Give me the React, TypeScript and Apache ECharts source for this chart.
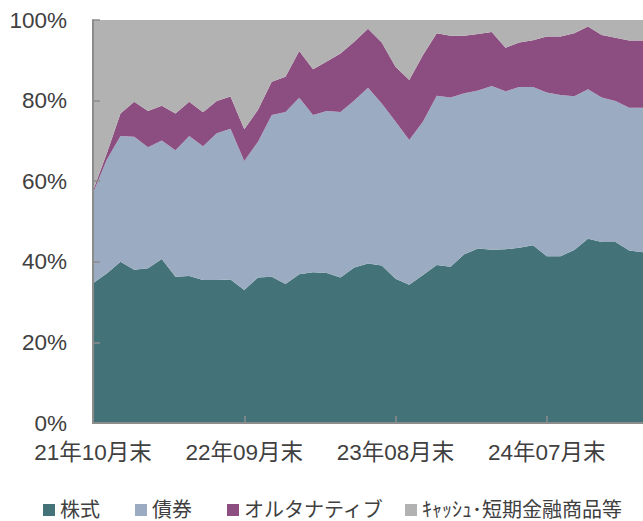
import React, { useEffect, useRef } from "react";
import * as echarts from "echarts";

const categories: string[] = [
  "21年10月末", "21年11月末", "21年12月末", "22年01月末", "22年02月末", "22年03月末",
  "22年04月末", "22年05月末", "22年06月末", "22年07月末", "22年08月末", "22年09月末",
  "22年10月末", "22年11月末", "22年12月末", "23年01月末", "23年02月末", "23年03月末",
  "23年04月末", "23年05月末", "23年06月末", "23年07月末", "23年08月末", "23年09月末",
  "23年10月末", "23年11月末", "23年12月末", "24年01月末", "24年02月末", "24年03月末",
  "24年04月末", "24年05月末", "24年06月末", "24年07月末", "24年08月末", "24年09月末",
  "24年10月末", "24年11月末", "24年12月末", "25年01月末", "25年02月末",
];

const stocks: number[] = [
  34.7, 37.1, 40.0, 38.0, 38.4, 40.7, 36.3, 36.5, 35.5, 35.5, 35.6, 33.0,
  36.1, 36.3, 34.5, 36.9, 37.4, 37.2, 36.1, 38.6, 39.6, 39.1, 35.8, 34.3,
  36.7, 39.2, 38.8, 41.9, 43.3, 43.0, 43.1, 43.5, 44.1, 41.4, 41.4, 42.9,
  45.7, 44.9, 44.9, 42.8, 42.4,
];
const bonds: number[] = [
  22.4, 28.2, 31.2, 33.0, 30.0, 29.4, 31.4, 34.7, 33.2, 36.4, 37.4, 32.0,
  33.7, 40.1, 42.7, 43.8, 39.0, 40.2, 41.1, 41.4, 43.6, 40.2, 39.0, 35.9,
  38.1, 42.0, 42.0, 39.9, 39.2, 40.6, 39.2, 39.9, 39.3, 40.6, 40.0, 38.2,
  37.1, 35.9, 35.0, 35.4, 35.8,
];
const alternatives: number[] = [
  0.5, 1.6, 5.6, 8.7, 9.0, 8.6, 9.1, 8.5, 8.4, 8.0, 8.0, 7.9,
  7.9, 8.3, 8.7, 11.6, 11.4, 12.3, 14.5, 14.6, 14.6, 15.1, 13.6, 14.9,
  16.5, 15.5, 15.3, 14.3, 14.0, 13.4, 10.8, 11.0, 11.6, 13.9, 14.5, 15.6,
  15.6, 15.5, 15.7, 16.7, 16.7,
];
const cash: number[] = [
  42.4, 33.1, 23.2, 20.3, 22.6, 21.3, 23.2, 20.3, 22.9, 20.1, 19.0, 27.1,
  22.3, 15.3, 14.1, 7.7, 12.2, 10.3, 8.3, 5.4, 2.2, 5.6, 11.6, 14.9,
  8.7, 3.3, 3.9, 3.9, 3.5, 3.0, 6.9, 5.6, 5.0, 4.1, 4.1, 3.3,
  1.6, 3.7, 4.4, 5.1, 5.1,
];

const seriesNames: string[] = ["株式", "債券", "オルタナティブ", "ｷｬｯｼｭ･短期金融商品等"];
const seriesColors: string[] = ["#437278", "#9BACC2", "#8C4D80", "#B2B2B2"];
const yTicks: number[] = [0, 20, 40, 60, 80, 100];

const FONT = "'Liberation Sans', 'Noto Sans CJK JP', sans-serif";

export default function App() {
  const ref = useRef<HTMLDivElement>(null);
  useEffect(() => {
    if (!ref.current) return;
    const chart = echarts.init(ref.current, undefined, { renderer: "svg" });
    const dataSets = [stocks, bonds, alternatives, cash];
    const legendLefts = [43, 135, 227, 405];
    chart.setOption({
      animation: false,
      grid: { left: 93, right: 0, top: 20, bottom: 98, containLabel: false },
      legend: seriesNames.map((n, i) => ({
        data: [n],
        left: legendLefts[i],
        top: 500,
        icon: "rect",
        itemWidth: 12,
        itemHeight: 12,
        itemGap: 0,
        padding: 0,
        selectedMode: false,
        textStyle: { fontSize: 20, lineHeight: 18, color: "#404040", fontFamily: FONT },
      })),
      xAxis: {
        type: "category",
        boundaryGap: false,
        data: categories,
        axisLine: { lineStyle: { color: "#8c8c8c", width: 2 } },
        axisTick: { show: true, inside: true, length: 7, interval: 10, lineStyle: { color: "#8c8c8c", width: 1.5 } },
        axisLabel: { interval: 10, margin: 18, fontSize: 22.5, color: "#404040", fontFamily: FONT },
        splitLine: { show: false },
        z: 10,
      },
      yAxis: {
        type: "value",
        min: yTicks[0],
        max: yTicks[yTicks.length - 1],
        interval: 20,
        axisLine: { show: true, lineStyle: { color: "#8c8c8c", width: 2 } },
        axisTick: { show: true, inside: true, length: 7, lineStyle: { color: "#8c8c8c", width: 1.5 } },
        axisLabel: { formatter: "{value}%", margin: 26, fontSize: 22.5, color: "#404040", fontFamily: FONT },
        splitLine: { show: false },
        z: 10,
      },
      series: seriesNames.map((n, i) => ({
        name: n,
        type: "line",
        stack: "total",
        data: dataSets[i],
        symbol: "none",
        lineStyle: { width: 0, color: seriesColors[i] },
        itemStyle: { color: seriesColors[i] },
        areaStyle: { color: seriesColors[i], opacity: 1 },
        emphasis: { disabled: true },
      })),
    });
    return () => chart.dispose();
  }, []);
  return <div ref={ref} style={{ width: 643, height: 521, position: "absolute", left: 0, top: 0 }} />;
}
